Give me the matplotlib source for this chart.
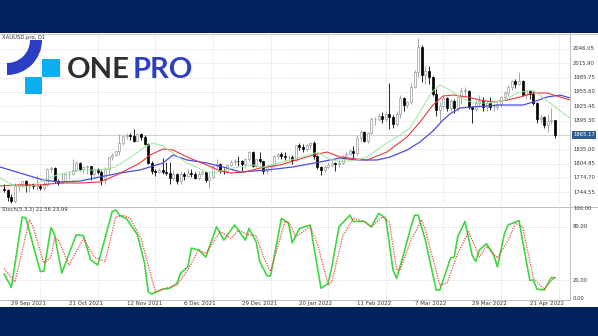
import matplotlib
matplotlib.use("Agg")
import matplotlib.pyplot as plt
import matplotlib.transforms as mtrans
from matplotlib.patches import Rectangle, Wedge
import numpy as np

# ---------------- data ----------------
opens = [1751,1750,1734,1726,1757,1761,1769,1760,1762,1757,
         1757,1754,1760,1793,1796,1768,1765,1769,1783,1784,
         1792,1806,1793,1798,1799,1783,1793,1788,1770,1793,
         1818,1824,1832,1849,1863,1865,1863,1852,1868,1860,
         1846,1806,1790,1788,1792,1788,1785,1774,1782,1768,
         1783,1779,1785,1783,1775,1783,1787,1771,1777,1799,
         1804,1790,1789,1803,1808,1811,1810,1805,1815,1829,
         1800,1814,1810,1789,1797,1801,1821,1826,1821,1818,
         1819,1813,1843,1840,1836,1843,1848,1820,1797,1791,
         1797,1801,1807,1804,1807,1821,1826,1832,1827,1859,
         1871,1853,1870,1898,1898,1906,1898,1910,1903,1889,
         1909,1943,1928,1935,1966,1998,2050,1992,2000,1988,
         1952,1917,1927,1943,1921,1936,1921,1944,1958,1958,
         1923,1919,1933,1937,1925,1932,1923,1925,1931,1946,
         1954,1966,1978,1973,1979,1950,1958,1951,1932,1898,
         1904,1886,1894,1896]
highs = [1762,1752,1742,1764,1765,1770,1771,1764,1765,1781,
         1761,1770,1796,1800,1797,1772,1785,1788,1790,1814,
         1810,1809,1800,1802,1800,1796,1795,1792,1797,1818,
         1827,1832,1868,1865,1870,1869,1877,1869,1870,1865,
         1849,1810,1794,1795,1816,1808,1808,1792,1786,1789,
         1787,1793,1793,1788,1790,1792,1790,1785,1800,1815,
         1806,1795,1805,1812,1815,1820,1812,1816,1831,1832,
         1815,1830,1811,1799,1804,1822,1828,1829,1829,1822,
         1824,1845,1848,1847,1846,1851,1853,1822,1800,1802,
         1809,1812,1809,1814,1823,1829,1836,1842,1865,1875,
         1873,1872,1902,1903,1912,1913,1915,1974,1908,1916,
         1950,1945,1937,1974,2002,2070,2055,2010,2010,1990,
         1962,1935,1948,1945,1940,1940,1947,1966,1966,1960,
         1927,1940,1950,1945,1937,1945,1932,1937,1948,1958,
         1970,1981,1982,1998,1981,1960,1960,1958,1934,1910,
         1906,1909,1922,1897]
lows = [1745,1726,1721,1723,1748,1756,1745,1746,1752,1750,
        1749,1750,1757,1788,1765,1759,1762,1766,1772,1780,
        1790,1789,1786,1782,1770,1777,1782,1759,1763,1783,
        1813,1820,1823,1845,1856,1855,1850,1850,1855,1845,
        1804,1782,1779,1786,1784,1780,1762,1770,1762,1762,
        1770,1776,1777,1772,1770,1781,1767,1753,1775,1795,
        1785,1784,1785,1800,1803,1800,1790,1795,1811,1798,
        1798,1807,1783,1782,1790,1797,1815,1815,1812,1812,
        1805,1810,1834,1830,1831,1835,1815,1793,1780,1788,
        1796,1798,1789,1798,1805,1815,1823,1815,1822,1850,
        1850,1848,1868,1887,1894,1890,1895,1878,1879,1885,
        1900,1915,1922,1930,1964,1988,1976,1973,1973,1947,
        1906,1895,1920,1915,1915,1911,1915,1930,1945,1920,
        1890,1915,1925,1915,1915,1918,1915,1917,1925,1940,
        1947,1960,1965,1970,1947,1940,1940,1928,1890,1891,
        1880,1872,1888,1858]
closes = [1750,1734,1726,1757,1761,1769,1760,1762,1757,1757,
          1754,1760,1793,1796,1768,1765,1769,1783,1784,1792,
          1806,1793,1798,1799,1783,1793,1788,1770,1793,1818,
          1824,1832,1849,1863,1865,1863,1852,1868,1860,1846,
          1806,1790,1788,1792,1788,1785,1774,1782,1768,1783,
          1779,1785,1783,1775,1783,1787,1771,1777,1799,1804,
          1790,1789,1803,1808,1811,1810,1805,1815,1829,1800,
          1814,1810,1789,1797,1801,1821,1826,1821,1818,1819,
          1813,1843,1840,1836,1843,1848,1820,1797,1791,1797,
          1801,1807,1804,1807,1821,1826,1832,1827,1859,1871,
          1853,1870,1898,1898,1906,1898,1910,1903,1889,1909,
          1943,1928,1935,1966,1998,2050,1992,2000,1988,1952,
          1917,1927,1943,1921,1936,1921,1944,1958,1958,1923,
          1919,1933,1937,1925,1932,1923,1925,1931,1946,1954,
          1966,1978,1973,1979,1950,1958,1951,1932,1898,1904,
          1886,1894,1896,1865.17]

date_label_idx = [2, 18, 34, 50, 66, 82, 98, 114, 130, 146]
date_labels = ["29 Sep 2021", "21 Oct 2021", "12 Nov 2021", "6 Dec 2021",
               "29 Dec 2021", "20 Jan 2022", "11 Feb 2022", "7 Mar 2022",
               "29 Mar 2022", "21 Apr 2022"]
vgrid_idx = [10, 26, 42, 58, 74, 90, 106, 122, 138, 154]
price_ticks = [2046.05, 2015.90, 1985.75, 1955.60, 1925.45, 1895.30,
               1835.00, 1804.85, 1774.70, 1744.55]
last_price = 1865.17

# Alligator lines (jaw / teeth / lips), sampled along the bar axis
jaw_idx = [-1.2, 4.4, 10.8, 15.5, 21.1, 26.6, 32.2, 37.7, 44.1, 46.9, 50.8, 56.3,
           61.9, 65.5, 73.0, 80.2, 87.7, 93.3, 98.0, 103.6, 107.2, 111.9, 115.5,
           119.1, 121.9, 123.8, 126.6, 130.2, 137.7, 144.1, 146.9, 150.8, 154.4, 157.2]
jaw_val = [1797.8, 1785.2, 1770.4, 1766.2, 1768.3, 1776.7, 1785.2, 1791.5, 1806.2,
           1823.0, 1812.5, 1806.2, 1795.7, 1787.3, 1791.5, 1797.8, 1808.3, 1816.7,
           1812.5, 1812.5, 1818.8, 1833.5, 1850.4, 1873.5, 1896.7, 1909.3, 1921.9,
           1924.0, 1928.2, 1928.2, 1934.5, 1945.0, 1949.2, 1942.9]
teeth_idx = [-1.2, 3.0, 9.9, 15.5, 21.1, 26.6, 31.3, 37.7, 40.5, 44.1, 46.9, 50.8,
             56.3, 60.0, 62.7, 66.9, 71.1, 76.6, 82.2, 85.8, 89.7, 93.3, 98.0, 100.8,
             106.3, 111.9, 115.5, 119.1, 121.9, 124.7, 128.6, 132.2, 135.8, 139.7,
             143.3, 146.9, 150.8, 154.4, 157.2]
teeth_val = [1757.8, 1759.9, 1759.9, 1764.1, 1764.1, 1766.2, 1781.0, 1806.2, 1823.0,
             1835.6, 1833.5, 1818.8, 1802.0, 1789.4, 1785.2, 1787.3, 1795.7, 1802.0,
             1814.6, 1823.0, 1829.3, 1818.8, 1814.6, 1812.5, 1829.3, 1860.9, 1892.5,
             1928.2, 1947.1, 1949.2, 1945.0, 1938.7, 1934.5, 1938.7, 1945.0, 1953.5,
             1953.5, 1945.0, 1938.7]
lips_idx = [-1.2, 3.0, 7.2, 11.3, 14.7, 18.3, 22.4, 26.6, 30.8, 34.9, 39.1, 41.3,
            44.1, 46.9, 50.8, 56.3, 58.0, 63.6, 69.1, 71.9, 77.4, 81.6, 84.9, 86.9,
            89.7, 93.3, 98.0, 100.8, 106.3, 109.9, 112.7, 115.5, 118.8, 121.1, 123.8,
            126.6, 130.2, 134.9, 139.1, 142.4, 146.9, 151.6, 155.2, 157.2]
lips_val = [1774.7, 1757.8, 1755.7, 1770.4, 1781.0, 1787.3, 1791.5, 1791.5, 1797.8,
            1816.7, 1839.9, 1848.3, 1842.0, 1827.2, 1806.2, 1787.3, 1785.2, 1795.7,
            1802.0, 1797.8, 1808.3, 1816.7, 1823.0, 1829.3, 1816.7, 1808.3, 1812.5,
            1818.8, 1848.3, 1865.1, 1879.8, 1913.5, 1955.6, 1970.3, 1959.8, 1945.0,
            1932.4, 1932.4, 1938.7, 1953.5, 1959.8, 1932.4, 1911.4, 1900.9]

# Stochastic(5,3,3): %K main line and %D signal line
k_idx = [0, 2, 5, 6, 10, 11, 13, 14, 16, 20, 22, 24, 26, 30, 31, 32, 34, 37, 39, 40,
         41, 44, 46, 48, 49, 51, 52, 54, 56, 59, 61, 64, 67, 68, 70, 71, 73, 74, 77,
         79, 80, 82, 85, 88, 90, 91, 93, 96, 97, 100, 102, 104, 106, 108, 109, 111,
         113, 114, 115, 117, 120, 121, 124, 125, 126, 128, 130, 131, 132, 134, 136,
         137, 139, 140, 143, 146, 147, 148, 150, 152, 153]
k_val = [27, 12, 91, 90, 30, 30, 79, 71, 28, 71, 70, 43, 37, 97, 99, 93, 89, 71, 39, 7,
         4.5, 10, 11, 16.5, 28, 35, 56, 54, 46, 80, 65, 82, 65, 78, 63, 41, 25, 25, 89.5,
         84, 62, 78, 82, 11, 16.5, 35, 80, 93, 86, 86, 80, 95, 89.5, 31.5, 22, 50,
         80, 93, 93, 65, 9, 9, 45, 46, 69, 86, 48, 41, 54, 61, 48,
         35, 73, 82, 87, 20, 20, 10, 9, 23, 22.56]
d_idx = [0, 3, 7, 8, 11, 13, 14, 15, 18, 22, 25, 28, 31, 33, 35, 38, 42, 45, 48, 51,
         54, 56, 60, 63, 65, 68, 70, 72, 74, 78, 79, 81, 85, 87, 90, 91, 94, 97, 100,
         102, 105, 107, 109, 110, 113, 116, 117, 121, 123, 126, 129, 130, 132, 134,
         137, 140, 142, 144, 147, 150, 153]
d_val = [33, 18, 88, 80, 39, 46, 67, 66, 37, 67, 46, 41, 91, 93, 89.5, 67, 7, 11, 14.6,
         31.5, 54, 50, 74.5, 67, 76, 71, 70, 46, 30, 86, 85, 69, 80, 61, 14.6, 18, 69,
         89.5, 86, 80, 91, 85, 31.5, 32, 65, 88, 76, 14.6, 17, 50, 74.5, 65, 46, 58,
         45, 65, 84, 80, 22, 9.8, 23.99]
stoch_ticks = [100, 80, 20, 0]
stoch_levels = [80, 20]

# ---------------- layout ----------------
W, H = 598, 336
NAVY = "#02215F"
GRID = "#D6D6D6"
AXIS = "#B4B4B4"
TXT = "#333333"
FS = 3.8
FS_DATE = 4.0

fig = plt.figure(figsize=(W / 100, H / 100), dpi=100)
fig.patch.set_facecolor(NAVY)


def box(x0, y0, x1, y1):
    return [x0 / W, 1 - y1 / H, (x1 - x0) / W, (y1 - y0) / H]


# white chart sheet
bg = fig.add_axes([0, 0, 1, 1])
bg.set_xlim(0, W)
bg.set_ylim(H, 0)
bg.axis("off")
bg.add_patch(Rectangle((0, 33), W, 274, facecolor="white", edgecolor="none"))

# bar axis: bar i sits at 4.2 + 3.6*i pixels
PX0, PXB = 4.2, 3.6
XL, XR = (0 - PX0) / PXB, (570 - PX0) / PXB

ax = fig.add_axes(box(0, 33, 570, 206))
ax.set_facecolor("none")
ax.set_xlim(XL, XR)
ax.set_ylim(1715.7, 2079.7)
ax.axis("off")

sx = fig.add_axes(box(0, 207, 570, 300))
sx.set_facecolor("none")
sx.set_xlim(XL, XR)
sx.set_ylim(-2.2, 102.2)
sx.axis("off")

# grid
for p in price_ticks:
    ax.axhline(p, color=GRID, lw=0.5, ls=(0, (2, 2)), zorder=0)
for i in vgrid_idx:
    ax.axvline(i, color=GRID, lw=0.5, ls=(0, (2, 2)), zorder=0)
    sx.axvline(i, color=GRID, lw=0.5, ls=(0, (2, 2)), zorder=0)
for lv in stoch_levels:
    sx.axhline(lv, color=GRID, lw=0.5, ls=(0, (2, 2)), zorder=0)
ax.axhline(last_price, color="#C8C8C8", lw=0.6, zorder=1)

# candles
x = np.arange(len(closes))
o = np.array(opens, float)
h = np.array(highs, float)
l = np.array(lows, float)
c = np.array(closes, float)
up = c >= o
ax.vlines(x[up], l[up], h[up], color="#9A9A9A", lw=0.6, zorder=2)
ax.vlines(x[~up], l[~up], h[~up], color="#000000", lw=0.6, zorder=2)
bot = np.minimum(o, c)
hgt = np.maximum(np.abs(c - o), 0.8)
ax.bar(x[up], hgt[up], bottom=bot[up], width=0.6, facecolor="white",
       edgecolor="#9A9A9A", linewidth=0.5, zorder=3)
ax.bar(x[~up], hgt[~up], bottom=bot[~up], width=0.6, facecolor="black",
       edgecolor="black", linewidth=0.5, zorder=3)

# alligator
ax.plot(jaw_idx, jaw_val, color="#4B4BE8", lw=0.9, zorder=4)
ax.plot(teeth_idx, teeth_val, color="#E83A3A", lw=0.8, zorder=4)
ax.plot(lips_idx, lips_val, color="#9BE89B", lw=0.7, zorder=4)

# stochastic
sx.plot(k_idx, k_val, color="#3FD63F", lw=1.2, zorder=3)
sx.plot(d_idx, d_val, color="#F04848", lw=0.9, ls=(0, (1, 1)), zorder=4)

# frame lines
bg.plot([570, 570], [33, 300], color=AXIS, lw=0.6)
bg.plot([0, W], [207, 207], color=AXIS, lw=0.6)
bg.plot([0, 570], [300, 300], color=AXIS, lw=0.6)
bg.plot([0, W], [33.5, 33.5], color=AXIS, lw=0.5)

# price scale
pt = mtrans.blended_transform_factory(ax.transAxes, ax.transData)
for p in price_ticks:
    ax.text(1 + 3 / 570, p, f"{p:.2f}", transform=pt, ha="left", va="center",
            fontsize=FS, color=TXT)
ax.text(1 + 3 / 570, last_price, f"{last_price:.2f}", transform=pt, ha="left",
        va="center", fontsize=FS, color="white",
        bbox=dict(boxstyle="square,pad=0.2", facecolor="#2E5C8E", edgecolor="none"))

st = mtrans.blended_transform_factory(sx.transAxes, sx.transData)
for v in stoch_ticks:
    sx.text(1 + 3 / 570, v, f"{v:.2f}", transform=st, ha="left", va="center",
            fontsize=FS, color=TXT)

# time scale
dt = mtrans.blended_transform_factory(sx.transData, sx.transAxes)
for i, lab in zip(date_label_idx, date_labels):
    sx.text(i, -3.5 / 93, lab, transform=dt, ha="left", va="center",
            fontsize=FS_DATE, color=TXT)

# window captions
ax.text(2 / 570, 1 - 4 / 173, "XAUUSD.pro, D1", transform=ax.transAxes,
        ha="left", va="center", fontsize=FS, color=TXT)
sx.text(2 / 570, 1 - 3 / 93, f"Stoch(5,3,3) {k_val[-1]:.2f} {d_val[-1]:.2f}",
        transform=sx.transAxes, ha="left", va="center", fontsize=FS, color=TXT)

# brand mark
lg = fig.add_axes([0, 0, 1, 1])
lg.set_xlim(0, W)
lg.set_ylim(H, 0)
lg.axis("off")
lg.set_facecolor("none")
lg.add_patch(Wedge((7, 40), 35, 0, 90, width=12, facecolor="#2B3EC4", edgecolor="none"))
lg.add_patch(Rectangle((42, 59), 18, 18, facecolor="#0AAFEF", edgecolor="none"))
lg.add_patch(Rectangle((25, 77), 17, 17, facecolor="#0AAFEF", edgecolor="none"))
lg.text(67, 78, "ONE", fontsize=21, fontweight="bold", family="Lato",
        color="#2E2E2E", ha="left", va="baseline")
lg.text(133, 78, "PRO", fontsize=21, fontweight="bold", family="Lato",
        color="#2B3EC4", ha="left", va="baseline")

fig.savefig("out.png", dpi=100, facecolor=NAVY)
